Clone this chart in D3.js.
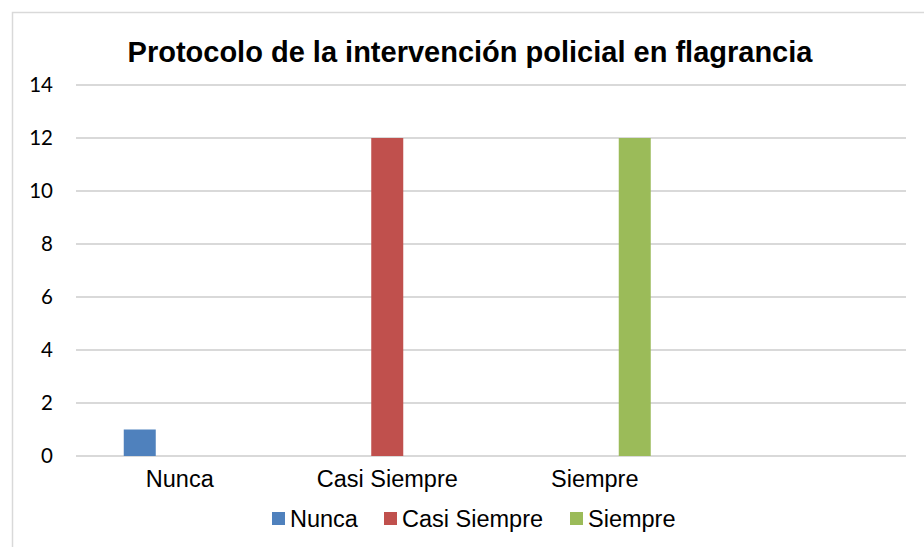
<!DOCTYPE html>
<html>
<head>
<meta charset="utf-8">
<title>Protocolo de la intervención policial en flagrancia</title>
<script src="https://d3js.org/d3.v7.min.js"></script>
<style>
    body { margin: 0; background: #fff; }
    svg { display: block; }
</style>
</head>
<body>
<div id="chart"></div>
<script>
    // categories (the last one is an empty slot, as in the original sheet)
    var categories = ["Nunca", "Casi Siempre", "Siempre", ""];
    var seriesNames = ["Nunca", "Casi Siempre", "Siempre"];
    var nunca = [1, 0, 0, 0];
    var casiSiempre = [0, 12, 0, 0];
    var siempre = [0, 0, 12, 0];
    var yTicks = [0, 2, 4, 6, 8, 10, 12, 14];
    var colors = ["#4f81bd", "#c0504d", "#9bbb59"];

    var seriesValues = [nunca, casiSiempre, siempre];

    var width = 924, height = 547;
    var plot = {left: 76, right: 906, top: 85, bottom: 456};

    var svg = d3.select("#chart")
        .append("svg")
        .attr("width", width)
        .attr("height", height);

    svg.append("rect")
        .attr("width", width)
        .attr("height", height)
        .attr("fill", "#fff");

    // chart area border, only top and left edges fall inside the picture
    svg.append("rect")
        .attr("x", 12.5)
        .attr("y", 12.5)
        .attr("width", width + 20)
        .attr("height", height + 20)
        .attr("fill", "none")
        .attr("stroke", "#d9d9d9")
        .attr("stroke-width", 1.5);

    var x0 = d3.scaleBand()
        .domain(categories)
        .range([plot.left, plot.right])
        .padding(0);

    var x1 = d3.scaleBand()
        .domain(seriesNames)
        .range([x0.bandwidth() / 2 - 60, x0.bandwidth() / 2 + 60])
        .paddingInner(0.2)
        .paddingOuter(0.1);

    var y = d3.scaleLinear()
        .domain([0, 14])
        .range([plot.bottom, plot.top]);

    // gridlines
    svg.append("g")
        .selectAll("line")
        .data(yTicks)
        .join("line")
        .attr("x1", plot.left)
        .attr("x2", plot.right)
        .attr("y1", d => y(d))
        .attr("y2", d => y(d))
        .attr("stroke", "#d9d9d9")
        .attr("stroke-width", 2);

    // y axis labels
    var yAxis = svg.append("g")
        .attr("transform", "translate(" + (plot.left - 23) + ",0)")
        .call(d3.axisLeft(y).tickValues(yTicks).tickSize(0).tickPadding(0));
    yAxis.select(".domain").remove();
    yAxis.selectAll("text")
        .attr("font-family", "Lato, 'Open Sans', sans-serif")
        .attr("font-size", 20.5)
        .attr("fill", "#000");

    // bars
    var groups = svg.append("g")
        .selectAll("g")
        .data(seriesNames)
        .join("g")
        .attr("fill", (d, i) => colors[i]);

    groups.selectAll("rect")
        .data((s, i) => categories.map((c, j) => ({cat: c, series: s, value: seriesValues[i][j]})))
        .join("rect")
        .filter(d => d.value > 0)
        .attr("x", d => x0(d.cat) + x1(d.series))
        .attr("width", x1.bandwidth())
        .attr("y", d => y(d.value))
        .attr("height", d => y(0) - y(d.value));

    // x axis labels
    var xAxis = svg.append("g")
        .attr("transform", "translate(0," + (plot.bottom + 14) + ")")
        .call(d3.axisBottom(x0).tickSize(0).tickPadding(0));
    xAxis.select(".domain").remove();
    xAxis.selectAll("text")
        .attr("dy", "0.71em")
        .attr("font-family", "'Liberation Sans', Arial, sans-serif")
        .attr("font-size", 23.5)
        .attr("fill", "#000");

    // title
    svg.append("text")
        .attr("x", 470)
        .attr("y", 62)
        .attr("text-anchor", "middle")
        .attr("font-family", "'Liberation Sans', Arial, sans-serif")
        .attr("font-weight", "bold")
        .attr("font-size", 29)
        .attr("fill", "#000")
        .text("Protocolo de la intervención policial en flagrancia");

    // legend
    var legendX = [272, 384, 570];
    var legend = svg.append("g")
        .selectAll("g")
        .data(seriesNames)
        .join("g")
        .attr("transform", (d, i) => "translate(" + legendX[i] + ",512)");
    legend.append("rect")
        .attr("width", 13)
        .attr("height", 13)
        .attr("fill", (d, i) => colors[i]);
    legend.append("text")
        .attr("x", 18)
        .attr("y", 15)
        .attr("font-family", "'Liberation Sans', Arial, sans-serif")
        .attr("font-size", 23.5)
        .attr("fill", "#000")
        .text(d => d);
</script>
</body>
</html>
